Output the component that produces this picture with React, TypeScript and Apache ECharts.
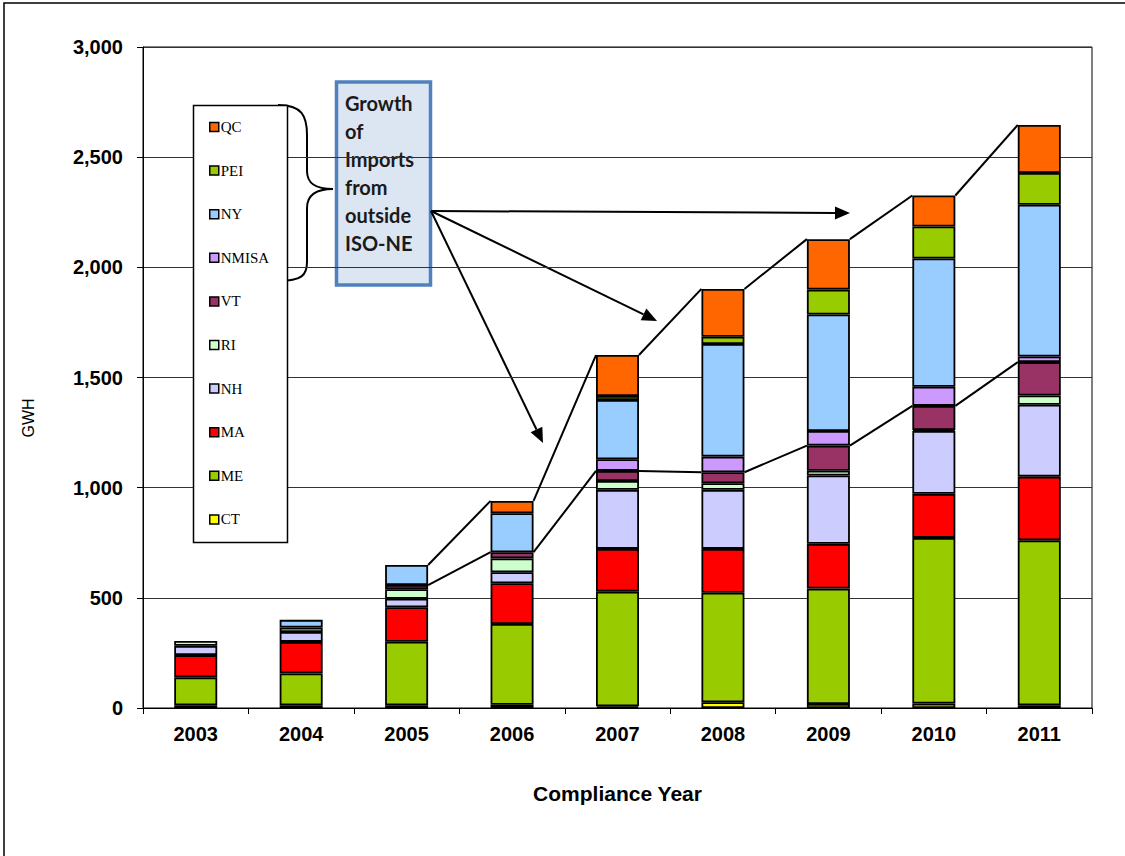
import React, { useEffect, useRef } from "react";
import * as echarts from "echarts";

const years = ["2003", "2004", "2005", "2006", "2007", "2008", "2009", "2010", "2011"];
const yTicks = [0, 500, 1000, 1500, 2000, 2500, 3000];

const CT = [12, 12, 12, 15, 8, 26, 18, 20, 12];
const ME = [127, 145, 289, 366, 520, 497, 524, 752, 749];
const MA = [101, 143, 156, 185, 194, 199, 203, 200, 289];
const NH = [42, 45, 39, 50, 268, 268, 310, 285, 326];
const RI = [22, 20, 43, 63, 40, 30, 22, 5, 42];
const VT = [0, 0, 19, 28, 46, 50, 114, 109, 152];
const NMISA = [0, 0, 0, 0, 53, 71, 66, 87, 25];
const NY = [0, 35, 91, 177, 269, 511, 529, 582, 689];
const PEI = [0, 0, 0, 0, 18, 33, 113, 145, 144];
const QC = [0, 0, 0, 56, 186, 217, 229, 141, 218];

const stackNames = ["CT", "ME", "MA", "NH", "RI", "VT", "NMISA", "NY", "PEI", "QC"];
const stackValues = [CT, ME, MA, NH, RI, VT, NMISA, NY, PEI, QC];
const stackColors = ["#FFFF00", "#99CC00", "#FF0000", "#CCCCFF", "#CCFFCC", "#993366", "#CC99FF", "#99CCFF", "#99CC00", "#FF6600"];
const legendOrder = ["QC", "PEI", "NY", "NMISA", "VT", "RI", "NH", "MA", "ME", "CT"];

// series lines start at 2005
const seriesLineStart = 2;
const annotationLines = ["Growth", "of", "Imports", "from", "outside", "ISO-NE"];

const SANS = "'Liberation Sans', Arial, sans-serif";

function arrow(x1: number, y1: number, x2: number, y2: number) {
  const dx = x2 - x1;
  const dy = y2 - y1;
  const len = Math.sqrt(dx * dx + dy * dy);
  const ux = dx / len;
  const uy = dy / len;
  const hl = 15;
  const hw = 6.5;
  const bx = x2 - ux * hl;
  const by = y2 - uy * hl;
  return [
    { type: "line", shape: { x1, y1, x2: bx, y2: by }, style: { stroke: "#000", lineWidth: 2 } },
    {
      type: "polygon",
      shape: {
        points: [
          [x2, y2],
          [bx - uy * hw, by + ux * hw],
          [bx + uy * hw, by - ux * hw],
        ],
      },
      style: { fill: "#000" },
    },
  ];
}

export default function App() {
  const ref = useRef<HTMLDivElement>(null);

  useEffect(() => {
    document.body.style.margin = "0";
    if (!ref.current) return;
    const chart = echarts.init(ref.current, null, { renderer: "svg" });

    const totals = years.map((_, i) => stackValues.reduce((s, arr) => s + arr[i], 0));
    const isoNe = years.map((_, i) => CT[i] + ME[i] + MA[i] + NH[i] + RI[i] + VT[i]);
    const lineData: number[][] = [];
    for (let i = seriesLineStart; i < years.length - 1; i++) {
      lineData.push([i, totals[i], totals[i + 1], isoNe[i], isoNe[i + 1]]);
    }
    const halfBar = 21.5;

    const barSeries = stackNames.map((name, k) => ({
      name,
      type: "bar",
      stack: "total",
      barWidth: 43,
      z: 3,
      data: stackValues[k].map((v) => (v === 0 ? null : v)),
      itemStyle: { color: stackColors[k], borderColor: "#000", borderWidth: 1.8 },
      emphasis: { disabled: true },
    }));

    const lineTextTop = 103;
    const annoTexts = annotationLines.map((t, i) => ({
      type: "text",
      x: 345,
      y: lineTextTop + i * 28,
      style: {
        text: t,
        fill: "#1a1a1a",
        font: "bold 20px Lato, 'Open Sans', sans-serif",
        verticalAlign: "middle",
      },
    }));

    const legendTop = 127;
    const legendSpacing = 43.6;

    chart.setOption({
      animation: false,
      grid: {
        left: 143,
        right: 33,
        top: 47,
        bottom: 148,
        show: true,
        borderColor: "#000",
        borderWidth: 1,
        backgroundColor: "transparent",
      },
      legend: {
        data: legendOrder,
        orient: "vertical",
        left: 209,
        top: legendTop - 7.5,
        padding: 0,
        z: 30,
        icon: "rect",
        itemWidth: 9,
        itemHeight: 9,
        itemGap: legendSpacing - 15,
        itemStyle: { borderColor: "#000", borderWidth: 1.5 },
        textStyle: {
          fontFamily: "'Liberation Serif', 'Times New Roman', serif",
          fontSize: 15,
          lineHeight: 15,
          color: "#000",
          padding: [0, 0, 0, -3],
        },
        selectedMode: false,
      },
      xAxis: {
        type: "category",
        data: years,
        boundaryGap: true,
        axisLine: { lineStyle: { color: "#000", width: 1 } },
        axisTick: { show: true, length: 6, interval: 0, lineStyle: { color: "#000" } },
        axisLabel: { fontFamily: SANS, fontWeight: "bold", fontSize: 20, color: "#000", margin: 16, interval: 0 },
        name: "Compliance Year",
        nameLocation: "middle",
        nameGap: 75,
        nameTextStyle: { fontFamily: SANS, fontWeight: "bold", fontSize: 21, color: "#000" },
      },
      yAxis: {
        type: "value",
        min: yTicks[0],
        max: yTicks[yTicks.length - 1],
        interval: 500,
        axisLine: { show: true, lineStyle: { color: "#000", width: 1 } },
        axisTick: { show: true, length: 6, lineStyle: { color: "#000" } },
        axisLabel: {
          fontFamily: SANS,
          fontWeight: "bold",
          fontSize: 20,
          color: "#000",
          margin: 20,
          formatter: (v: number) => v.toLocaleString("en-US"),
        },
        splitLine: { show: true, lineStyle: { color: "#333", width: 1 } },
      },
      series: [
        ...barSeries,
        {
          name: "seriesLines",
          type: "custom",
          data: lineData,
          encode: { x: 0, y: [1, 2, 3, 4] },
          z: 5,
          silent: true,
          renderItem: (params: any, api: any) => {
            const i = api.value(0);
            const a1 = api.coord([i, api.value(1)]);
            const b1 = api.coord([i + 1, api.value(2)]);
            const a2 = api.coord([i, api.value(3)]);
            const b2 = api.coord([i + 1, api.value(4)]);
            return {
              type: "group",
              children: [
                {
                  type: "line",
                  shape: { x1: a1[0] + halfBar, y1: a1[1], x2: b1[0] - halfBar, y2: b1[1] },
                  style: { stroke: "#000", lineWidth: 2 },
                },
                {
                  type: "line",
                  shape: { x1: a2[0] + halfBar, y1: a2[1], x2: b2[0] - halfBar, y2: b2[1] },
                  style: { stroke: "#000", lineWidth: 2 },
                },
              ],
            };
          },
        },
      ],
      graphic: [
        {
          type: "rect",
          shape: { x: 4, y: 3, width: 1400, height: 1200 },
          style: { fill: "none", stroke: "#000", lineWidth: 1.5 },
          silent: true,
        },
        {
          type: "text",
          x: 28,
          y: 418,
          rotation: Math.PI / 2,
          style: {
            text: "GWH",
            fill: "#000",
            font: "16px 'Liberation Sans', Arial, sans-serif",
            align: "center",
            verticalAlign: "middle",
          },
        },
        {
          type: "rect",
          z: 2,
          shape: { x: 193.5, y: 105.5, width: 94, height: 437 },
          style: { fill: "#fff", stroke: "#000", lineWidth: 1.5 },
          silent: true,
        },
        {
          type: "group",
          z: 20,
          children: [
            { type: "bezierCurve", shape: { x1: 278, y1: 105, cpx1: 302, cpy1: 105, cpx2: 307, cpy2: 116, x2: 307, y2: 135 }, style: { stroke: "#000", lineWidth: 2, fill: "none" } },
            { type: "line", shape: { x1: 307, y1: 135, x2: 307, y2: 171 }, style: { stroke: "#000", lineWidth: 2 } },
            { type: "bezierCurve", shape: { x1: 307, y1: 171, cpx1: 307, cpy1: 184, cpx2: 316, cpy2: 189, x2: 333, y2: 189 }, style: { stroke: "#000", lineWidth: 2, fill: "none" } },
            { type: "bezierCurve", shape: { x1: 333, y1: 189, cpx1: 316, cpy1: 189, cpx2: 307, cpy2: 195, x2: 307, y2: 208 }, style: { stroke: "#000", lineWidth: 2, fill: "none" } },
            { type: "line", shape: { x1: 307, y1: 208, x2: 307, y2: 262 }, style: { stroke: "#000", lineWidth: 2 } },
            { type: "bezierCurve", shape: { x1: 307, y1: 262, cpx1: 307, cpy1: 275, cpx2: 302, cpy2: 281, x2: 278, y2: 281 }, style: { stroke: "#000", lineWidth: 2, fill: "none" } },
          ],
        },
        {
          type: "group",
          z: 20,
          children: [
            {
              type: "rect",
              shape: { x: 336.5, y: 82, width: 94, height: 203 },
              style: { fill: "#DCE6F2", stroke: "#4F81BD", lineWidth: 3.5 },
            },
            ...annoTexts,
          ],
        },
        {
          type: "group",
          z: 20,
          children: [
            ...arrow(431, 211, 850, 213),
            ...arrow(431, 211, 657, 321),
            ...arrow(431, 211, 543, 443),
          ],
        },
      ],
    });

    return () => chart.dispose();
  }, []);

  return <div ref={ref} style={{ width: 1125, height: 856 }} />;
}
